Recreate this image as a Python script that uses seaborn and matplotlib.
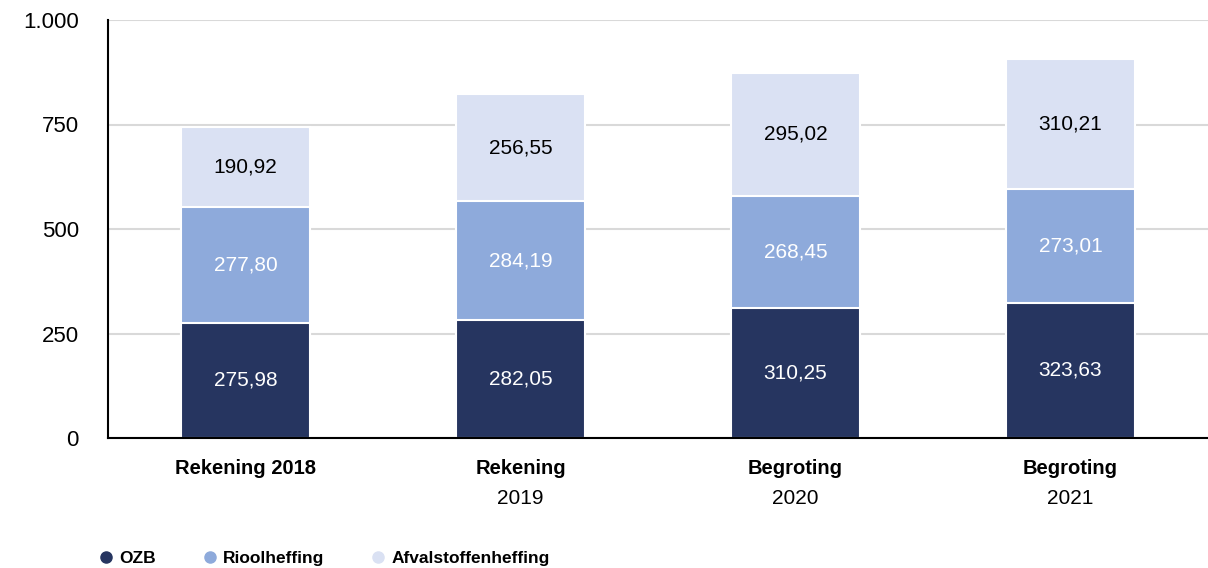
import numpy as np
import pandas as pd
import matplotlib
matplotlib.use('Agg')
import matplotlib.pyplot as plt
import seaborn as sns
from matplotlib.lines import Line2D

# ── Data ──────────────────────────────────────────────────
categories = ['Rekening 2018', 'Rekening 2019', 'Begroting 2020', 'Begroting 2021']
cat_top = ['Rekening 2018', 'Rekening', 'Begroting', 'Begroting']
cat_bottom = ['', '2019', '2020', '2021']
ozb = [275.98, 282.05, 310.25, 323.63]
riool = [277.80, 284.19, 268.45, 273.01]
afval = [190.92, 256.55, 295.02, 310.21]
series_names = ['OZB', 'Rioolheffing', 'Afvalstoffenheffing']
yticks = [0, 250, 500, 750, 1000]
ytick_labels = ['0', '250', '500', '750', '1.000']

colors = ['#263560', '#8eaadb', '#dae1f3']
label_colors = ['white', 'white', 'black']

sns.set_style('white')
plt.rcParams['font.family'] = ['Liberation Sans', 'DejaVu Sans']
plt.rcParams['text.color'] = 'black'
plt.rcParams['ytick.color'] = 'black'
plt.rcParams['xtick.color'] = 'black'

df = pd.DataFrame({'cat': categories, 'OZB': ozb,
                   'Rioolheffing': riool, 'Afvalstoffenheffing': afval})
df['c1'] = df['OZB']
df['c2'] = df['c1'] + df['Rioolheffing']
df['c3'] = df['c2'] + df['Afvalstoffenheffing']

fig = plt.figure(figsize=(12.08, 5.68), dpi=100)
ax = fig.add_axes([108 / 1208, 130 / 568, 1100 / 1208, 418 / 568])

# back to front: total, then OZB+riool, then OZB
for col, c in zip(['c3', 'c2', 'c1'], colors[::-1]):
    sns.barplot(data=df, x='cat', y=col, color=c, width=0.47,
                edgecolor='white', linewidth=1.5, saturation=1, ax=ax)

# segment labels
segs = [ozb, riool, afval]
for i in range(len(categories)):
    base = 0
    for s, vals in enumerate(segs):
        v = vals[i]
        ax.text(i, base + v / 2, f'{v:.2f}'.replace('.', ','),
                ha='center', va='center', fontsize=15, color=label_colors[s])
        base += v

ax.set_xlim(-0.5, len(categories) - 0.5)
ax.set_ylim(0, 1000)
ax.set_yticks(yticks)
ax.set_yticklabels(ytick_labels, fontsize=16)
ax.tick_params(axis='y', length=0, pad=21, labelcolor='black')
ax.set_xticks(range(len(categories)))
ax.set_xticklabels([''] * len(categories))
ax.tick_params(axis='x', length=0)
ax.set_xlabel('')
ax.set_ylabel('')
ax.yaxis.grid(True, color='#d9d9d9', linewidth=1.5)
ax.set_axisbelow(True)
for sp in ['top', 'right']:
    ax.spines[sp].set_visible(False)
for sp in ['left', 'bottom']:
    ax.spines[sp].set_color('black')
    ax.spines[sp].set_linewidth(1.5)

# category labels
for i in range(len(categories)):
    ax.annotate(cat_top[i], xy=(i, 0), xycoords=('data', 'axes fraction'),
                xytext=(0, -31), textcoords='offset pixels', color='black',
                ha='center', va='center', fontsize=14.5, fontweight='bold')
    if cat_bottom[i]:
        ax.annotate(cat_bottom[i], xy=(i, 0), xycoords=('data', 'axes fraction'),
                    xytext=(0, -60), textcoords='offset pixels', color='black',
                    ha='center', va='center', fontsize=15)

# legend
handles = [Line2D([], [], marker='o', linestyle='', markersize=8,
                  markerfacecolor=c, markeredgecolor=c) for c in colors]
leg = fig.legend(handles, series_names, loc='lower left',
                 bbox_to_anchor=(0.068, -0.024), ncol=3, frameon=False,
                 handletextpad=0.25, columnspacing=2.6, handlelength=1.0,
                 prop={'size': 12.5, 'weight': 'bold'})
for t in leg.get_texts():
    t.set_color('black')

plt.savefig('out.png', dpi=100)
